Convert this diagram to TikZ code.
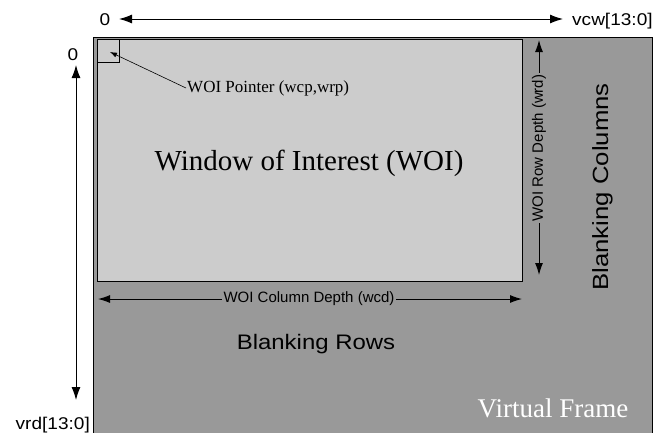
\documentclass[tikz,border=0pt]{standalone}
\usepackage{fontspec}
\setmainfont{Liberation Serif}
\setsansfont{Liberation Sans}
\usetikzlibrary{arrows.meta}
\definecolor{framegray}{HTML}{999999}
\definecolor{woigray}{HTML}{CCCCCC}
\newcommand{\hstretch}[2]{\scalebox{#1}[1]{#2}}
\begin{document}
\begin{tikzpicture}[x=1pt,y=-1pt,
  bigtip/.tip={Latex[length=13pt,width=9pt]},
  midtip/.tip={Latex[length=12pt,width=8pt]},
  dimline/.style={bigtip-bigtip, line width=1pt},
  oneway/.style={-midtip, line width=1pt},
  axislbl/.style={font=\sffamily\fontsize{17}{19}\selectfont, inner sep=0pt},
  dimlbl/.style={font=\sffamily\fontsize{15}{17}\selectfont, inner sep=1.5pt},
  bigsans/.style={font=\sffamily\fontsize{21}{24}\selectfont, inner sep=0pt},
  bigserif/.style={font=\rmfamily\fontsize{29}{32}\selectfont, inner sep=0pt},
  ptrlbl/.style={font=\rmfamily\fontsize{17}{19}\selectfont, inner sep=1pt},
  box/.style={draw=black, line width=1pt, inner sep=0pt, anchor=north west}]
\useasboundingbox (0,0) rectangle (668,432);
% virtual frame
\node[box, fill=framegray, minimum width=559pt, minimum height=410pt] (vf) at (93,37) {};
% window of interest
\node[box, fill=woigray, minimum width=425pt, minimum height=242pt] (woi) at (97,39) {};
% pointer square
\node[box, line width=0.6pt, minimum width=22pt, minimum height=23pt] (sq) at (97,39) {};
% texts
\node[bigserif] (woitxt) at (309,163) {Window of Interest (WOI)};
\node[ptrlbl, anchor=west] (ptr) at (186,88) {WOI Pointer (wcp,wrp)};
\coordinate (ptrtip) at (110,52);
\draw[-{Latex[length=7pt,width=5pt]}, line width=0.6pt] (ptr.west) -- (ptrtip);
\node[bigsans] (brows) at (316,344) {\hstretch{1.14}{Blanking Rows}};
\node[bigsans, font=\sffamily\fontsize{22}{25}\selectfont, rotate=90] (bcols) at (602.5,187) {\hstretch{1.17}{Blanking Columns}};
\node[font=\rmfamily\fontsize{27}{30}\selectfont, text=white, inner sep=0pt, anchor=base] (vftxt) at (553,417) {Virtual Frame};
% top axis
\node[axislbl, anchor=base] (x0) at (105,25) {\hstretch{1.12}{0}};
\node[axislbl, anchor=base west] (xmax) at (572,25) {\hstretch{1.12}{vcw[13:0]}};
\coordinate (xa) at (119,19);
\coordinate (xb) at (563,19);
\draw[dimline] (xa) -- (xb);
% left axis
\node[axislbl, anchor=base] (y0) at (73,60) {\hstretch{1.12}{0}};
\node[axislbl, anchor=base east] (ymax) at (90,429) {\hstretch{1.12}{vrd[13:0]}};
\coordinate (ya) at (76,65);
\coordinate (yb) at (76,400);
\draw[dimline] (ya) -- (yb);
% column depth
\node[dimlbl] (cd) at (309,299) {WOI Column Depth (wcd)};
\coordinate (cda) at (98,299);
\coordinate (cdb) at (522,299);
\draw[oneway] (cd.west) -- (cda);
\draw[oneway] (cd.east) -- (cdb);
% row depth
\node[dimlbl, rotate=90] (rd) at (539,148) {WOI Row Depth (wrd)};
\coordinate (rda) at (539,40);
\coordinate (rdb) at (539,275);
\draw[oneway] (rd.east) -- (rda);
\draw[oneway] (rd.west) -- (rdb);
\end{tikzpicture}
\end{document}
